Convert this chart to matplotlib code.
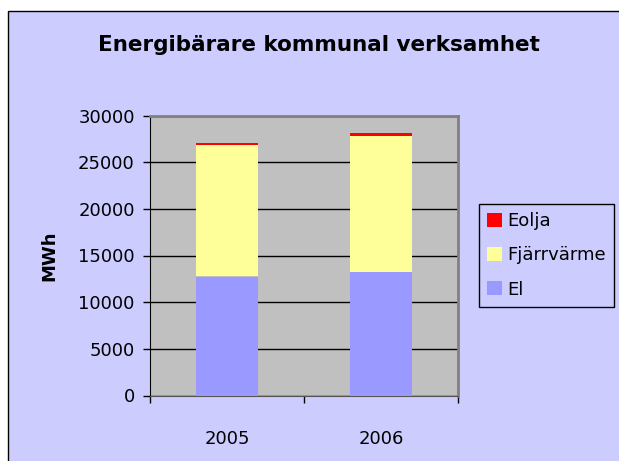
import matplotlib
matplotlib.use('Agg')
import matplotlib.pyplot as plt
from matplotlib.patches import Rectangle, Patch

years = ['2005', '2006']
el = [12750, 13250]
fjarrvarme = [14100, 14600]
eolja = [200, 300]

plt.rcParams['font.family'] = ['DejaVu Sans']

fig = plt.figure(figsize=(6.19, 4.61), dpi=100)
fig.patch.set_facecolor('white')

# chart area background with border on left/top
bg = Rectangle((8 / 619, -0.01), 1.0, 1 - 11 / 461 + 0.01,
               transform=fig.transFigure, facecolor='#CCCCFF',
               edgecolor='black', linewidth=1.0, zorder=-10)
fig.patches.append(bg)

ax = fig.add_axes([150 / 619, 1 - 395.5 / 461, 308 / 619, 280 / 461])
ax.set_facecolor('#C0C0C0')

x = range(len(years))
bottom2 = [a + b for a, b in zip(el, fjarrvarme)]
ax.bar(x, el, width=0.4, color='#9999FF', zorder=3)
ax.bar(x, fjarrvarme, width=0.4, bottom=el, color='#FFFF99', zorder=3)
ax.bar(x, eolja, width=0.4, bottom=bottom2, color='#FF0000', zorder=3)

ax.set_xlim(-0.5, 1.5)
ax.set_ylim(0, 30000)
ax.set_yticks(range(0, 30001, 5000))
ax.yaxis.grid(True, color='black', linewidth=1.0, zorder=1)
ax.set_axisbelow(True)

ax.set_xticks([0, 1])
ax.set_xticklabels(years)
ax.set_xticks([-0.5, 0.5, 1.5], minor=True)
ax.tick_params(axis='x', which='major', length=0, pad=25, labelsize=13)
ax.tick_params(axis='x', which='minor', length=5, width=1, direction='out')
ax.tick_params(axis='y', length=5, width=1, direction='out', pad=6, labelsize=13)

for side in ['top', 'right']:
    ax.spines[side].set_color('#808080')
    ax.spines[side].set_linewidth(2.0)
ax.spines['left'].set_color('black')
ax.spines['bottom'].set_color('#555555')

ax.set_ylabel('MWh', fontsize=13, fontweight='bold', labelpad=14)

fig.text(319 / 619, 1 - 45 / 461, 'Energibärare kommunal verksamhet',
         ha='center', va='center', fontsize=15.5, fontweight='bold')

handles = [Patch(facecolor='#FF0000', label='Eolja'),
           Patch(facecolor='#FFFF99', label='Fjärrvärme'),
           Patch(facecolor='#9999FF', label='El')]
leg = fig.legend(handles=handles, loc='upper left',
                 bbox_to_anchor=(479 / 619, 1 - 204 / 461),
                 fontsize=13, frameon=True, fancybox=False,
                 facecolor='#CCCCFF', edgecolor='black', framealpha=1,
                 handlelength=0.8, handleheight=0.8, handletextpad=0.3,
                 borderaxespad=0, labelspacing=0.9, borderpad=0.45)
leg.get_frame().set_linewidth(1.0)

fig.savefig('out.png', dpi=100)
